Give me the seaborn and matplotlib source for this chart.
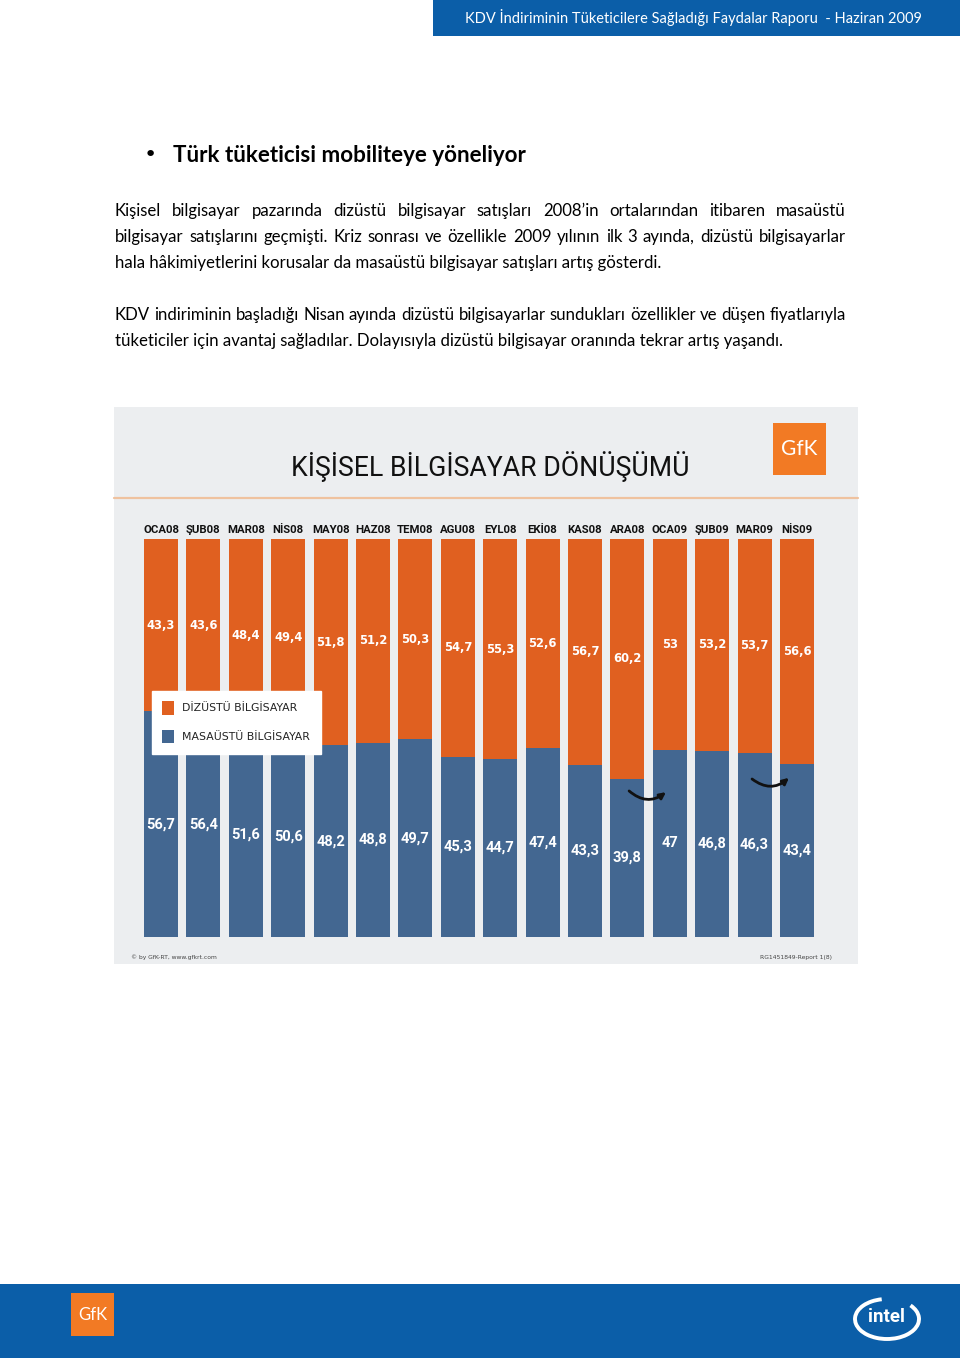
import numpy as np
import pandas as pd
import matplotlib
matplotlib.use("Agg")
import matplotlib.pyplot as plt
import seaborn as sns
from matplotlib.patches import Rectangle, Patch, Arc
from matplotlib.lines import Line2D
from matplotlib import font_manager

# ---------------- data ----------------
months = ["OCA08", "ŞUB08", "MAR08", "NİS08", "MAY08", "HAZ08", "TEM08", "AGU08",
          "EYL08", "EKİ08", "KAS08", "ARA08", "OCA09", "ŞUB09", "MAR09", "NİS09"]
laptop = [43.3, 43.6, 48.4, 49.4, 51.8, 51.2, 50.3, 54.7, 55.3, 52.6, 56.7, 60.2, 53, 53.2, 53.7, 56.6]
desktop = [56.7, 56.4, 51.6, 50.6, 48.2, 48.8, 49.7, 45.3, 44.7, 47.4, 43.3, 39.8, 47, 46.8, 46.3, 43.4]
series_names = ["DİZÜSTÜ BİLGİSAYAR", "MASAÜSTÜ BİLGİSAYAR"]
chart_title = "KİŞİSEL BİLGİSAYAR DÖNÜŞÜMÜ"
header_text = "KDV İndiriminin Tüketicilere Sağladığı Faydalar Raporu  - Haziran 2009"
heading = "Türk tüketicisi mobiliteye yöneliyor"
para1_lines = [
    "Kişisel bilgisayar pazarında dizüstü bilgisayar satışları 2008’in ortalarından itibaren masaüstü",
    "bilgisayar satışlarını geçmişti. Kriz sonrası ve özellikle 2009 yılının ilk 3 ayında, dizüstü bilgisayarlar",
    "hala hâkimiyetlerini korusalar da masaüstü bilgisayar satışları artış gösterdi.",
]
para2_lines = [
    "KDV indiriminin başladığı Nisan ayında dizüstü bilgisayarlar sundukları özellikler ve düşen fiyatlarıyla",
    "tüketiciler için avantaj sağladılar. Dolayısıyla dizüstü bilgisayar oranında tekrar artış yaşandı.",
]
copyright_text = "© by GfK-RT, www.gfkrt.com"
report_text = "RG1451849-Report 1(8)"

# ---------------- style ----------------
ORANGE = "#E06020"
BLUE = "#436791"
PANEL = "#ECEEF0"
PAGE_BLUE = "#0B5EA8"
GFK_ORANGE = "#F27A24"

sns.set_theme(style="white")
names = {f.name for f in font_manager.fontManager.ttflist}
BODY = "Lato" if "Lato" in names else "DejaVu Sans"
if "Liberation Sans Narrow" in names:
    NARROW = "Liberation Sans Narrow"
elif "Roboto" in names:
    NARROW = "Roboto"
else:
    NARROW = "DejaVu Sans"
plt.rcParams["font.family"] = ["DejaVu Sans"]

W, H = 960, 1358
fig = plt.figure(figsize=(W / 100, H / 100), dpi=100)
fig.patch.set_facecolor("white")

# page overlay axes in pixel coordinates
page = fig.add_axes([0, 0, 1, 1], zorder=0)
page.set_xlim(0, W)
page.set_ylim(H, 0)
page.axis("off")
renderer = fig.canvas.get_renderer()


def text_width(t):
    return t.get_window_extent(renderer).width


def fit_text(t, target):
    fs = t.get_fontsize()
    t.set_fontsize(fs * target / text_width(t))
    return t


# header band
page.add_patch(Rectangle((433, 0), W - 433, 36, color=PAGE_BLUE, lw=0))
fit_text(page.text(693, 18, header_text, ha="center", va="center", color="white",
                   fontsize=11, family=[BODY, "DejaVu Sans"]), 456)

# heading
page.text(150, 155, "•", ha="center", va="center", fontsize=16, color="black")
fit_text(page.text(173, 155, heading, ha="left", va="center", fontsize=15,
                   fontweight="bold", family=[BODY, "DejaVu Sans"], color="black"), 354)

# body text, justified
probe = page.text(0, 0, para1_lines[2], fontsize=12, family=[BODY, "DejaVu Sans"])
body_fs = 12 * 542 / text_width(probe)
probe.remove()
X0, X1 = 115, 846


def put_line(line, y, justify):
    if not justify:
        page.text(X0, y, line, ha="left", va="center", fontsize=body_fs,
                  family=[BODY, "DejaVu Sans"], color="black")
        return
    words = line.split(" ")
    objs = [page.text(0, y, w, ha="left", va="center", fontsize=body_fs,
                      family=[BODY, "DejaVu Sans"], color="black") for w in words]
    widths = [text_width(o) for o in objs]
    gap = (X1 - X0 - sum(widths)) / (len(words) - 1)
    x = X0
    for o, wd in zip(objs, widths):
        o.set_x(x)
        x += wd + gap


for i, (line, y) in enumerate(zip(para1_lines, [211, 237, 263])):
    put_line(line, y, i < len(para1_lines) - 1)
for i, (line, y) in enumerate(zip(para2_lines, [315, 341])):
    put_line(line, y, i < len(para2_lines) - 1)

# chart panel
page.add_patch(Rectangle((114, 407), 744, 557, color=PANEL, lw=0))
page.add_line(Line2D([114, 858], [498, 498], color="#EFC29F", lw=1.6))
fit_text(page.text(490, 467, chart_title, ha="center", va="center", fontsize=20,
                   family=[NARROW, "DejaVu Sans"], color="#111111"), 397)
page.add_patch(Rectangle((773, 423), 53, 52, color=GFK_ORANGE, lw=0))
page.text(799.5, 449, "GfK", ha="center", va="center", color="white", fontsize=15,
          family=[BODY, "DejaVu Sans"])
page.text(131, 957, copyright_text, ha="left", va="center", fontsize=4.3, color="#444444")
page.text(832, 957, report_text, ha="right", va="center", fontsize=4.3, color="#444444")

# footer band
page.add_patch(Rectangle((0, 1284), W, 74, color=PAGE_BLUE, lw=0))
page.add_patch(Rectangle((71, 1293), 43, 43, color=GFK_ORANGE, lw=0))
page.text(92.5, 1315, "GfK", ha="center", va="center", color="white", fontsize=12,
          family=[BODY, "DejaVu Sans"])
page.add_patch(Arc((887, 1319), 64, 40, theta1=-30, theta2=255, color="white", lw=2.8))
page.text(886, 1317, "intel", ha="center", va="center", color="white", fontsize=13.5,
          fontweight="bold", family=[NARROW, "DejaVu Sans"])

# ---------------- chart ----------------
PX_UNIT = 42.4
C0 = 161
ax = fig.add_axes([114 / W, 1 - 937 / H, 744 / W, 398 / H], zorder=1)
ax.patch.set_alpha(0)

df = pd.DataFrame({"month": months, "laptop": laptop, "desktop": desktop})
df["total"] = df["laptop"] + df["desktop"]

sns.barplot(data=df, x="month", y="total", color=ORANGE, saturation=1, width=0.8,
            errorbar=None, linewidth=0, ax=ax)
sns.barplot(data=df, x="month", y="desktop", color=BLUE, saturation=1, width=0.8,
            errorbar=None, linewidth=0, ax=ax)

ax.set_xlim(-(C0 - 114) / PX_UNIT, 15 + (858 - (C0 + 15 * PX_UNIT)) / PX_UNIT)
ax.set_ylim(0, 100)
ax.set_xlabel("")
ax.set_ylabel("")
ax.set_yticks([])
ax.xaxis.tick_top()
ax.tick_params(axis="x", length=0, pad=3, labelsize=8.2 if NARROW != "DejaVu Sans" else 7)
for lbl in ax.get_xticklabels():
    lbl.set_fontweight("bold")
    lbl.set_color("#111111")
    lbl.set_family([NARROW, "DejaVu Sans"])
for s in ax.spines.values():
    s.set_visible(False)


def fmt(v):
    return f"{v:g}".replace(".", ",")


for i, (l, d) in enumerate(zip(laptop, desktop)):
    ax.text(i, d + l / 2, fmt(l), ha="center", va="center", color="white",
            fontweight="bold", fontsize=8.3)
    ax.text(i, d / 2, fmt(d), ha="center", va="center", color="white",
            fontweight="bold", fontsize=10.5 if NARROW != "DejaVu Sans" else 8.5,
            family=[NARROW, "DejaVu Sans"])

# curved arrows highlighting the desktop rise
arrow_kw = dict(arrowstyle="-|>", connectionstyle="arc3,rad=0.4", color="#111111",
                lw=2, mutation_scale=9, shrinkA=0, shrinkB=0)
ax.annotate("", xy=(11.91, 36.4), xytext=(11.04, 36.7), arrowprops=arrow_kw)
ax.annotate("", xy=(14.81, 40.0), xytext=(13.94, 39.7), arrowprops=arrow_kw)

# legend
handles = [Patch(facecolor=ORANGE, edgecolor="none"), Patch(facecolor=BLUE, edgecolor="none")]
leg = ax.legend(handles, series_names, loc="upper left",
                bbox_to_anchor=(152 / W, 1 - 691 / H), bbox_transform=fig.transFigure,
                frameon=True, fancybox=False, framealpha=1, facecolor="white",
                edgecolor="white", borderaxespad=0, fontsize=7.8,
                handlelength=1.1, handleheight=1.5, handletextpad=0.75,
                labelspacing=1.45, borderpad=0.95)
for t in leg.get_texts():
    t.set_color("#222222")

fig.savefig("out.png", dpi=100)
